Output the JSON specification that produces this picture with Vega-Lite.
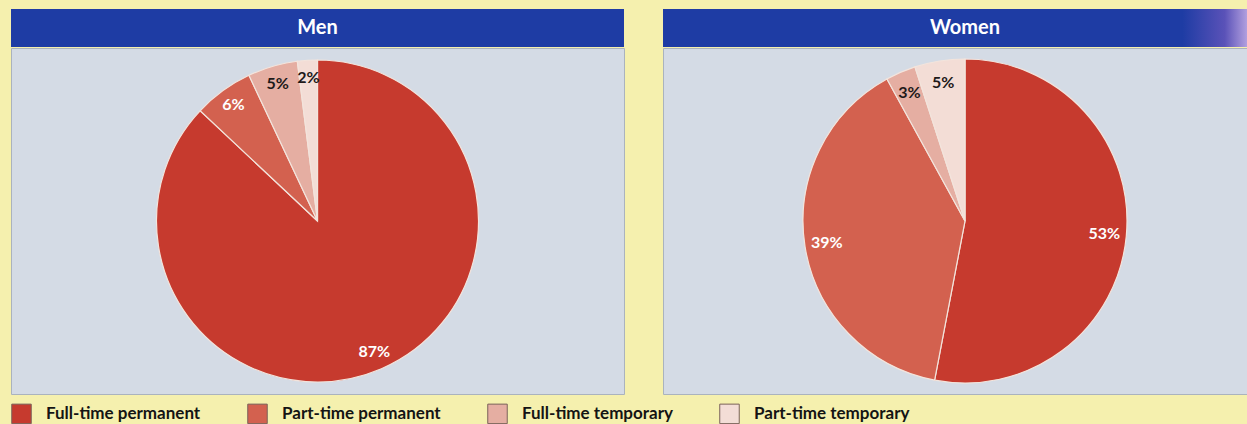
{
  "$schema": "https://vega.github.io/schema/vega-lite/v6.json",
  "background": "#f5f0ae",
  "padding": {"left": 10, "top": 9, "right": 0, "bottom": 0},
  "datasets": {
    "shares": [
      {"panel": "Men", "category": "Full-time permanent", "rank": 1, "value": 0.87},
      {"panel": "Men", "category": "Part-time permanent", "rank": 2, "value": 0.06},
      {"panel": "Men", "category": "Full-time temporary", "rank": 3, "value": 0.05},
      {"panel": "Men", "category": "Part-time temporary", "rank": 4, "value": 0.02},
      {"panel": "Women", "category": "Full-time permanent", "rank": 1, "value": 0.53},
      {"panel": "Women", "category": "Part-time permanent", "rank": 2, "value": 0.39},
      {"panel": "Women", "category": "Full-time temporary", "rank": 3, "value": 0.03},
      {"panel": "Women", "category": "Part-time temporary", "rank": 4, "value": 0.05}
    ]
  },
  "spacing": 37,
  "hconcat": [
    {
      "spacing": 0,
      "vconcat": [
        {
          "width": 613, "height": 38,
          "data": {"values": [{"panel": "Men"}]},
          "view": {"fill": "#1e3ca4", "stroke": null},
          "mark": {"type": "text", "color": "white", "fontWeight": "bold", "fontSize": 20, "font": "Lato"},
          "encoding": {"text": {"field": "panel"}}
        },
        {
          "width": 613, "height": 346,
          "view": {"fill": "#d4dbe5", "stroke": "#aab3be"},
          "data": {"name": "shares"},
          "transform": [{"filter": "datum.panel === 'Men'"}],
          "encoding": {
            "theta": {"field": "value", "type": "quantitative", "stack": true},
            "order": {"field": "rank", "type": "quantitative"}
          },
          "layer": [
            {
              "mark": {"type": "arc", "outerRadius": 161, "stroke": "#f3e4dc", "strokeWidth": 1.2},
              "encoding": {
                "color": {"field": "category", "type": "nominal",
                  "scale": {"domain": ["Full-time permanent", "Part-time permanent", "Full-time temporary", "Part-time temporary"],
                            "range": ["#c63a2e", "#d3614f", "#e5aea2", "#f3ddd6"]},
                  "legend": {"title": null}}
              }
            },
            {
              "mark": {"type": "text", "radius": 143, "fontWeight": "bold", "fontSize": 16, "font": "Lato"},
              "encoding": {
                "text": {"field": "value", "type": "quantitative", "format": ".0%"},
                "color": {"condition": {"test": "datum.rank <= 2", "value": "white"}, "value": "#1e1a1a"}
              }
            }
          ]
        }
      ]
    },
    {
      "spacing": 0,
      "vconcat": [
        {
          "width": 604, "height": 38,
          "data": {"values": [{"panel": "Women"}]},
          "view": {"stroke": null},
          "layer": [
            {
              "mark": {"type": "rect", "color": {"gradient": "linear", "x1": 0, "x2": 1, "y1": 0, "y2": 0,
                "stops": [{"offset": 0, "color": "#1e3ca4"}, {"offset": 0.86, "color": "#1e3ca4"}, {"offset": 0.93, "color": "#5a52b8"}, {"offset": 0.97, "color": "#b9a6e2"}, {"offset": 1, "color": "#d8cdee"}]}}
            },
            {
              "mark": {"type": "text", "color": "white", "fontWeight": "bold", "fontSize": 20, "font": "Lato"},
              "encoding": {"text": {"field": "panel"}}
            }
          ]
        },
        {
          "width": 604, "height": 346,
          "view": {"fill": "#d4dbe5", "stroke": "#aab3be"},
          "data": {"name": "shares"},
          "transform": [{"filter": "datum.panel === 'Women'"}],
          "encoding": {
            "theta": {"field": "value", "type": "quantitative", "stack": true},
            "order": {"field": "rank", "type": "quantitative"}
          },
          "layer": [
            {
              "mark": {"type": "arc", "outerRadius": 162, "stroke": "#f3e4dc", "strokeWidth": 1.2},
              "encoding": {
                "color": {"field": "category", "type": "nominal",
                  "scale": {"domain": ["Full-time permanent", "Part-time permanent", "Full-time temporary", "Part-time temporary"],
                            "range": ["#c63a2e", "#d3614f", "#e5aea2", "#f3ddd6"]},
                  "legend": {"title": null}}
              }
            },
            {
              "mark": {"type": "text", "radius": 140, "fontWeight": "bold", "fontSize": 16, "font": "Lato"},
              "encoding": {
                "text": {"field": "value", "type": "quantitative", "format": ".0%"},
                "color": {"condition": {"test": "datum.rank <= 2", "value": "white"}, "value": "#1e1a1a"}
              }
            }
          ]
        }
      ]
    }
  ],
  "resolve": {"scale": {"color": "shared"}},
  "config": {
    "view": {"stroke": null},
    "legend": {
      "orient": "bottom",
      "direction": "horizontal",
      "columns": 4,
      "symbolType": "square",
      "symbolSize": 380,
      "symbolStrokeColor": "#7a625a",
      "symbolStrokeWidth": 1,
      "symbolOpacity": 1,
      "labelFont": "Lato",
      "labelFontSize": 17,
      "labelFontWeight": "bold",
      "labelColor": "#141414",
      "labelOffset": 14,
      "columnPadding": 44,
      "offset": 8,
      "padding": 0
    }
  }
}
